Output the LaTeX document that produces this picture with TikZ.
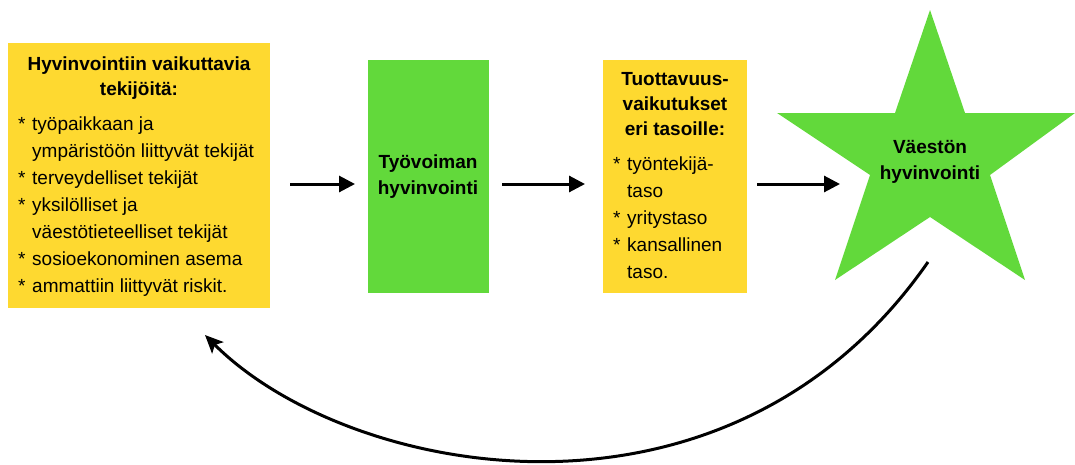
\documentclass[tikz,border=0pt]{standalone}
\usepackage{fontspec}
\setmainfont{Liberation Sans}
\usetikzlibrary{shapes.geometric,arrows.meta}
\definecolor{ybox}{RGB}{254,217,48}
\definecolor{gbox}{RGB}{98,217,59}
\begin{document}
\begin{tikzpicture}[x=1pt,y=-1pt,
  fillbox/.style={fill=#1,draw=none,inner sep=0pt,anchor=north west},
  ttl/.style={font=\fontsize{19}{25}\selectfont\bfseries,anchor=base,inner sep=0pt},
  itm/.style={font=\fontsize{19}{27}\selectfont,anchor=base west,inner sep=0pt},
  arr/.style={line width=3pt,-{Triangle[length=16pt,width=16pt]}},
  carr/.style={line width=3pt,-{Stealth[length=18pt,width=16pt,inset=4pt]}}]
\useasboundingbox (0,0) rectangle (1075,464);
% boxes
\node[fillbox=ybox,minimum width=262pt,minimum height=265pt] (b1) at (8,43) {};
\node[fillbox=gbox,minimum width=121pt,minimum height=233pt] (g) at (368,60) {};
\node[fillbox=ybox,minimum width=144pt,minimum height=233pt] (b3) at (603,60) {};
% star
\coordinate (st) at (930,159);
\fill[gbox] (930,10) -- (965,113) -- (1075,113) -- (990,175) -- (1025,280)
  -- (930,217) -- (835,280) -- (870,175) -- (777,113) -- (895,113) -- cycle;
% box 1 text
\node[ttl] (t1a) at (139,70) {Hyvinvointiin vaikuttavia};
\node[ttl] (t1b) at (139,95) {tekijöitä:};
\node[itm] (s11) at (18,130) {*};
\node[itm] (i11) at (32,130) {työpaikkaan ja};
\node[itm] (i12) at (32,157) {ympäristöön liittyvät tekijät};
\node[itm] (s13) at (18,184) {*};
\node[itm] (i13) at (32,184) {terveydelliset tekijät};
\node[itm] (s14) at (18,211) {*};
\node[itm] (i14) at (32,211) {yksilölliset ja};
\node[itm] (i15) at (32,238) {väestötieteelliset tekijät};
\node[itm] (s16) at (18,265) {*};
\node[itm] (i16) at (32,265) {sosioekonominen asema};
\node[itm] (s17) at (18,292) {*};
\node[itm] (i17) at (32,292) {ammattiin liittyvät riskit.};
% green box text
\node[ttl] (t2a) at (428,168) {Työvoiman};
\node[ttl] (t2b) at (428,194) {hyvinvointi};
% box 3 text
\node[ttl] (t3a) at (675,85) {Tuottavuus-};
\node[ttl] (t3b) at (675,110) {vaikutukset};
\node[ttl] (t3c) at (675,135) {eri tasoille:};
\node[itm] (s31) at (613,170) {*};
\node[itm] (i31) at (627,170) {työntekijä-};
\node[itm] (i32) at (627,197) {taso};
\node[itm] (s33) at (613,224) {*};
\node[itm] (i33) at (627,224) {yritystaso};
\node[itm] (s34) at (613,251) {*};
\node[itm] (i34) at (627,251) {kansallinen};
\node[itm] (i35) at (627,278) {taso.};
% star text
\node[ttl] (t4a) at (930,153) {Väestön};
\node[ttl] (t4b) at (930,179) {hyvinvointi};
% arrows
\coordinate (row) at (0,184);
\draw[arr,shorten <=20pt,shorten >=13pt] (b1.east|-row) -- (g.west|-row);
\draw[arr,shorten <=13pt,shorten >=18pt] (g.east|-row) -- (b3.west|-row);
\draw[arr,shorten <=10pt,shorten >=90pt] (b3.east|-row) -- (st|-row);
\coordinate (cs) at (928,262);
\coordinate (ce) at (205,335);
\draw[carr] (cs) .. controls (727,551) and (348,478) .. (ce);
\end{tikzpicture}
\end{document}
